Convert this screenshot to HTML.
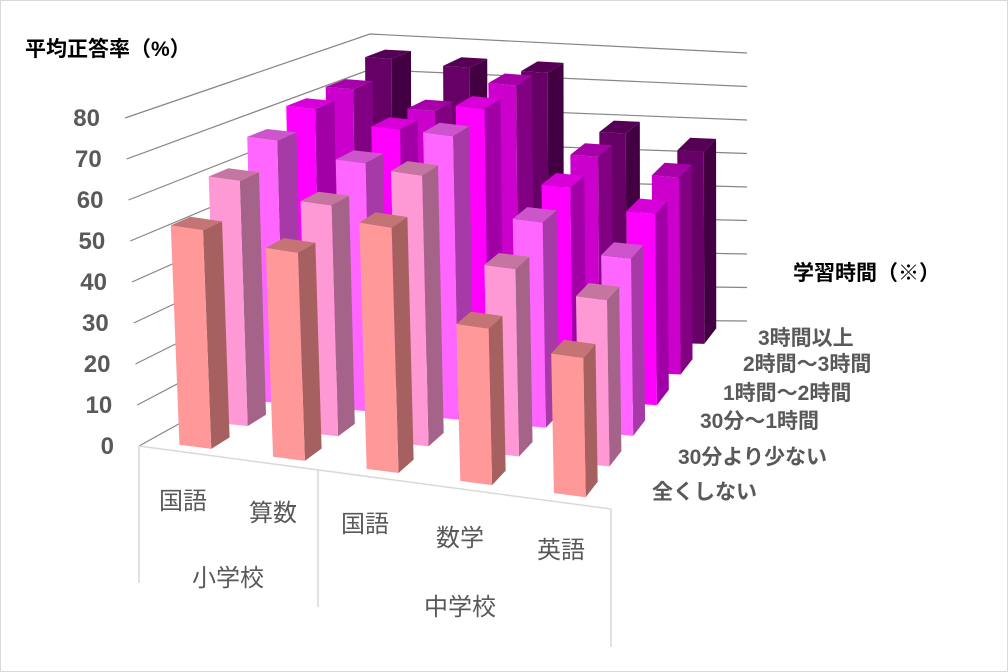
<!DOCTYPE html>
<html><head><meta charset="utf-8"><style>
html,body{margin:0;padding:0;background:#fff}
svg{display:block;font-family:"Liberation Sans","Noto Sans CJK JP",sans-serif}
</style></head><body>
<svg width="1008" height="672" viewBox="0 0 1008 672">
<rect x="0.5" y="0.5" width="1007" height="671" fill="#fff" stroke="#d9d9d9"/>
<g id="grid"></g>
<g id="bars"></g>
<g id="axes"></g>
<text x="25" y="56" font-size="21" font-weight="bold" fill="#000">平均正答率（%）</text>
<text x="793" y="280" font-size="21" font-weight="bold" fill="#000">学習時間（※）</text>
</svg>
<script>
const categories = ["国語","算数","国語","数学","英語"];
const groups = ["小学校","中学校"];
const seriesNames = ["全くしない","30分より少ない","30分～1時間","1時間～2時間","2時間～3時間","3時間以上"];
const s0 = [54, 52, 62, 40, 36];
const s1 = [62, 59, 70, 49, 44];
const s2 = [68, 65, 75, 55, 48];
const s3 = [72, 69, 77, 58, 53];
const s4 = [73, 69, 78, 60, 56];
const s5 = [77, 76, 76, 60, 56];
const yTicks = [0,10,20,30,40,50,60,70,80];

const series = [s0,s1,s2,s3,s4,s5];
const NS="http://www.w3.org/2000/svg";
const VMAX=80;
const F={fl:[139,446],fr:[611,509],bl:[370,318],br:[747,321]};
const T={fl:[125,118],fr:[606,199],bl:[370,34],br:[747,53]};
function bil(C,u,w){
  const a=[C.fl[0]+(C.fr[0]-C.fl[0])*u, C.fl[1]+(C.fr[1]-C.fl[1])*u];
  const b=[C.bl[0]+(C.br[0]-C.bl[0])*u, C.bl[1]+(C.br[1]-C.bl[1])*u];
  return [a[0]+(b[0]-a[0])*w, a[1]+(b[1]-a[1])*w];
}
function P(u,w,v){const f=bil(F,u,w),t=bil(T,u,w),k=v/VMAX;return [f[0]+(t[0]-f[0])*k,f[1]+(t[1]-f[1])*k];}
function el(tag,attrs,parent){const e=document.createElementNS(NS,tag);for(const k in attrs)e.setAttribute(k,attrs[k]);parent.appendChild(e);return e;}
const grid=document.getElementById('grid');
yTicks.forEach(v=>{
  const a=P(0,0,v),b=P(0,1,v),c=P(1,1,v);
  const l=el('polyline',{points:`${a} ${b} ${c}`,fill:'none',stroke:'#868686','stroke-width':1.2},grid);
  
  
});
const axes=document.getElementById('axes');
yTicks.forEach(v=>{
  const a=P(0,0,v);
  const t=el('text',{x:a[0]-25,y:a[1]+8,'text-anchor':'end','font-size':24,'font-weight':'bold',fill:'#595959'},axes);
  t.textContent=v;
  
  
});
const fl=P(0,0,0),fr=P(1,0,0);
const box=el('path',{d:`M${fl[0]},${fl[1]} L${fr[0]},${fr[1]} M${fl[0]},${fl[1]} V583 M318,${fl[1]+(fr[1]-fl[1])*(318-fl[0])/(fr[0]-fl[0])} V607 M${fr[0]},${fr[1]} V647`,stroke:'#d9d9d9','stroke-width':1.5,fill:'none'},axes);


const catPos=[[183,509],[273,521],[365,532],[460,546],[561,558]];
categories.forEach((c,i)=>{
  const t=el('text',{x:catPos[i][0],y:catPos[i][1],'text-anchor':'middle','font-size':24,fill:'#595959'},axes);
  t.textContent=c;
  
  
});
const grpPos=[[228,586],[460,615]];
groups.forEach((g,i)=>{
  const t=el('text',{x:grpPos[i][0],y:grpPos[i][1],'text-anchor':'middle','font-size':24,fill:'#595959'},axes);
  t.textContent=g;
  
  
});
const serPos=[[652,499],[678,464],[700,428],[723,400],[743,371],[758,345]];
seriesNames.forEach((s,j)=>{
  const t=el('text',{x:serPos[j][0],y:serPos[j][1],'font-size':21,'font-weight':'bold',fill:'#595959'},axes);
  t.textContent=s;
  
  
});
const colors=[
 {f:'#ff9999',s:'#a66060',t:'#c47474'},
 {f:'#ff99d6',s:'#a6638a',t:'#c576a0'},
 {f:'#ff66ff',s:'#a63aa6',t:'#cc55cc'},
 {f:'#ff00ff',s:'#a000a6',t:'#d800d8'},
 {f:'#cc00cc',s:'#820082',t:'#a800a8'},
 {f:'#660066',s:'#420042',t:'#550055'}];
const bars=document.getElementById('bars');
const HU=0.034,HW=0.042;
for(let j=5;j>=0;j--){
  for(let i=0;i<5;i++){
    const v=series[j][i];
    const uc=(i+0.5)/5,wc=(j+0.5)/6;
    const u0=uc-HU,u1=uc+HU,w0=wc-HW,w1=wc+HW;
    const g=el('g',{},bars);
    
    
    const pts=a=>a.map(p=>p.join(',')).join(' ');
    el('polygon',{points:pts([P(u1,w0,0),P(u1,w1,0),P(u1,w1,v),P(u1,w0,v)]),fill:colors[j].s},g);
    el('polygon',{points:pts([P(u0,w0,0),P(u1,w0,0),P(u1,w0,v),P(u0,w0,v)]),fill:colors[j].f},g);
    el('polygon',{points:pts([P(u0,w0,v),P(u1,w0,v),P(u1,w1,v),P(u0,w1,v)]),fill:colors[j].t},g);
  }
}
</script>
</body></html>
